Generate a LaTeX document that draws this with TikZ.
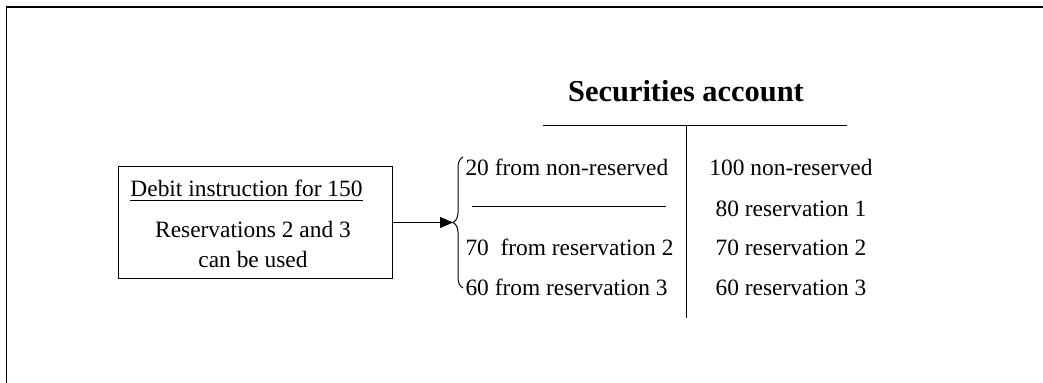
\documentclass[tikz,border=0pt]{standalone}
\usepackage{fontspec}
\setmainfont{Liberation Serif}
\usetikzlibrary{arrows.meta}
\usetikzlibrary{decorations.pathreplacing}

\begin{document}
\begin{tikzpicture}[x=0.5pt, y=-0.5pt, line width=0.5pt,
  txt/.style={inner sep=0pt, font=\fontsize{11.7}{14}\selectfont}]
  \useasboundingbox (0,0) rectangle (1043,383);
  \draw[-, line width=0.9pt] (6.5,383) -- (6.5,7) -- (1043,7);
  \node[draw, rectangle, minimum width=137pt, minimum height=56pt] (instr) at (255,222.5) {};
  \node[txt, anchor=base] (debit) at (246.5,197) {\underline{Debit instruction for 150}};
  \node[txt, anchor=base] (res) at (253,238) {Reservations 2 and 3};
  \node[txt, anchor=base] (used) at (253,268) {can be used};
  \node[inner sep=0pt, anchor=base, font=\bfseries\fontsize{15.2}{18}\selectfont] (title) at (686,102) {Securities account};
  \coordinate (tl) at (543,126);
  \coordinate (tr) at (847,126);
  \coordinate (tm) at (686,126);
  \coordinate (tb) at (686,318);
  \draw[-] (tl) -- (tr);
  \draw[-] (tm) -- (tb);
  \coordinate (brtop) at (463,157);
  \coordinate (brbot) at (463,288);
  \coordinate (brtip) at (453,222.5);
  \draw[decorate, decoration={brace, amplitude=5pt}] (brbot) -- (brtop);
  \draw[-{Triangle[length=6.5pt, width=5.5pt]}] (instr.east) -- (brtip);
  \node[txt, anchor=base west] (l1) at (465,176) {20 from non-reserved};
  \node[txt, anchor=base west] (l3) at (465,256) {70~ from reservation 2};
  \node[txt, anchor=base west] (l4) at (465,296) {60 from reservation 3};
  \coordinate (sl) at (472,207);
  \coordinate (sr) at (666,207);
  \draw[-] (sl) -- (sr);
  \node[txt, anchor=base] (r1) at (791,176) {100 non-reserved};
  \node[txt, anchor=base] (r2) at (791,217) {80 reservation 1};
  \node[txt, anchor=base] (r3) at (791,256) {70 reservation 2};
  \node[txt, anchor=base] (r4) at (791,296) {60 reservation 3};
\end{tikzpicture}
\end{document}
